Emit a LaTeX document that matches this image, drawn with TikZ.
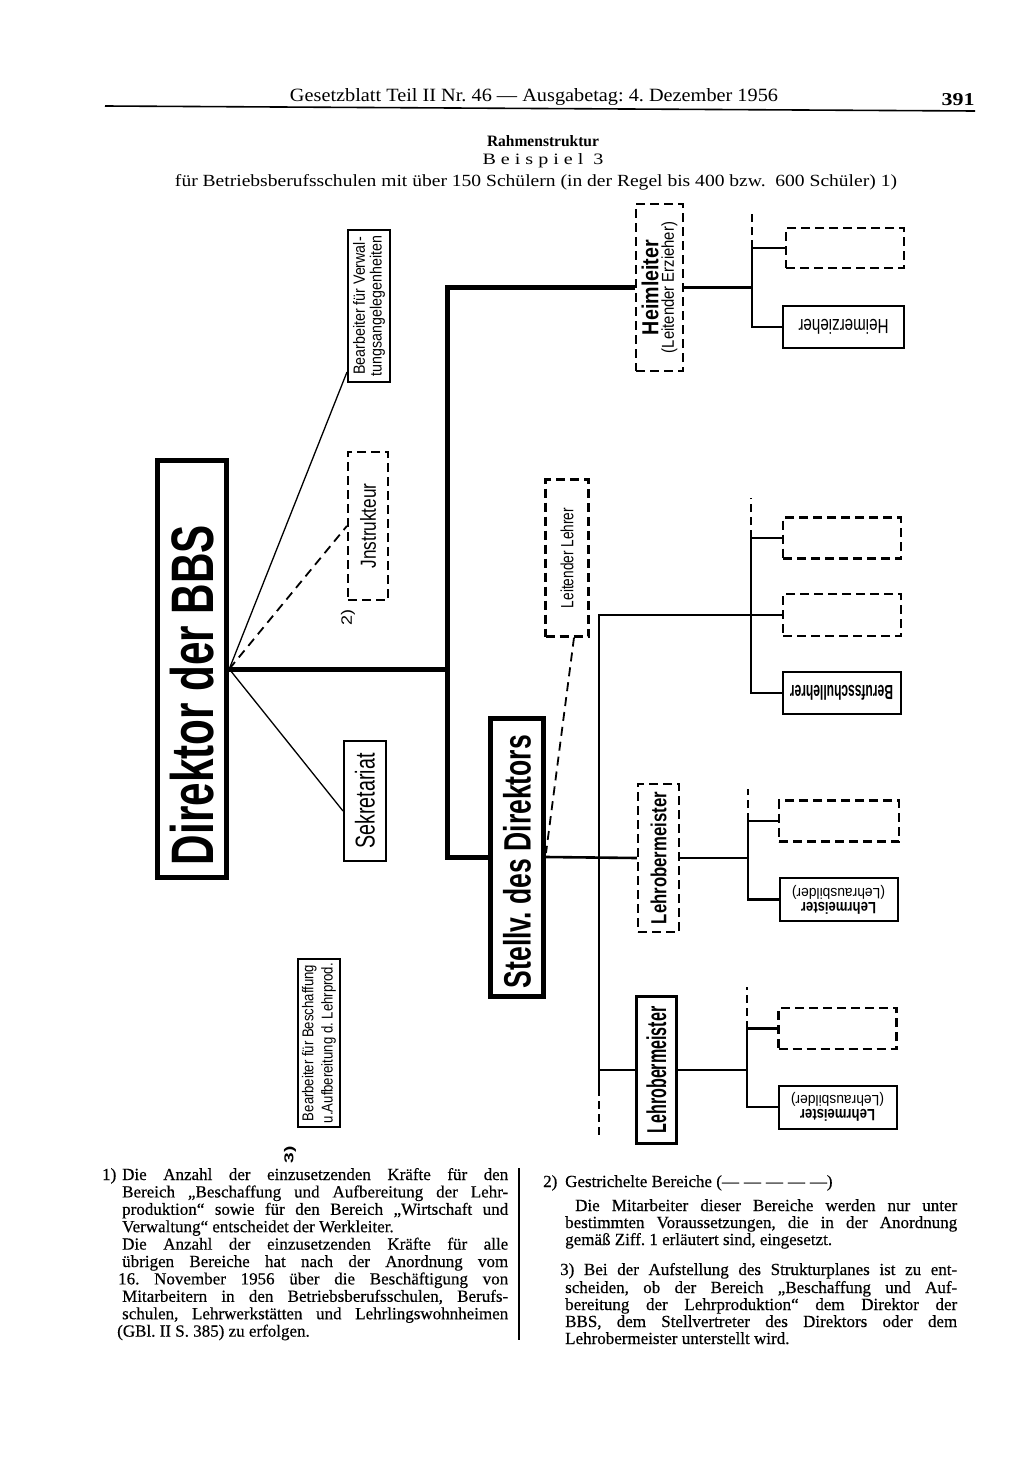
\documentclass[tikz,border=0pt]{standalone}
\usepackage{fontspec}
\usepackage{graphicx}
\setmainfont{Liberation Serif}
\newfontfamily\dsans{Liberation Sans}
\newfontfamily\fnfont[FakeBold=0.4]{Liberation Serif}
\usetikzlibrary{calc}
\newcommand\fitR[3]{\rotatebox{90}{\resizebox*{#1}{#2}{#3}}}
\newcommand\fitU[3]{\rotatebox{180}{\resizebox*{#1}{#2}{#3}}}
\newcommand\jl[2]{\makebox[#1][s]{#2}}
\frenchspacing
\begin{document}
\begin{tikzpicture}[x=1pt,y=-1pt,
 box/.style={draw, rectangle, inner sep=0pt, line width=2pt, font=\dsans},
 dbox/.style={box, line width=2.2pt, dash pattern=on 9pt off 5pt},
 heavybox/.style={box, line width=5pt},
 trunkline/.style={line width=5pt},
 midline/.style={line width=2.6pt},
 thinline/.style={line width=1.3pt},
 dashline/.style={line width=1.8pt, dash pattern=on 9pt off 6pt},
 stub/.style={line width=2.6pt, dash pattern=on 8pt off 5pt},
 fn/.style={anchor=base west, inner sep=0pt, font=\fnfont\fontsize{17}{19}\selectfont},
 lbl/.style={inner sep=0pt, font=\dsans\bfseries},
 ttl/.style={inner sep=0pt}]
\useasboundingbox (0,0) rectangle (1024,1459);
\fill[white] (0,0) rectangle (1024,1459);

% header
\node[ttl] (hdr) at (534,97) {\resizebox{488pt}{13pt}{Gesetzblatt Teil II Nr. 46 — Ausgabetag: 4. Dezember 1956}};
\node[ttl] (pg) at (958,100) {\resizebox{33pt}{12pt}{\bfseries 391}};
\draw[line width=1.6pt] (105,106) -- (975,111);
\node[ttl] (ta) at (543,141) {\resizebox{112pt}{11pt}{\bfseries Rahmenstruktur}};
\node[ttl] (tb) at (543,161) {\resizebox{121pt}{11pt}{\addfontfeature{LetterSpace=25}Beispiel 3}};
\node[ttl] (tc) at (536,182) {\resizebox{722pt}{12pt}{für Betriebsberufsschulen mit über 150 Schülern (in der Regel bis 400 bzw.\ \ 600 Schüler) 1)}};

% left side
\node[heavybox, line width=5.5pt, minimum width=69pt, minimum height=417pt] (dir) at (192,669)
  {\rotatebox{90}{\resizebox*{340pt}{44pt}{\bfseries Direktor der BBS}\hspace{52pt}}};
\node[box, minimum width=42pt, minimum height=152pt] (bv) at (369,306)
  {\rotatebox{90}{\resizebox*{140pt}{32pt}{\shortstack{Bearbeiter für Verwal-\\tungsangelegenheiten}}}};
\node[dbox, minimum width=40pt, minimum height=148pt] (instr) at (368,526) {\fitR{85pt}{16pt}{Jnstrukteur}};
\node[lbl, font=\dsans] (n2) at (348,617) {\fitR{16pt}{14pt}{2)}};
\node[box, minimum width=42pt, minimum height=120pt] (sek) at (365,801) {\fitR{95pt}{20pt}{Sekretariat}};
\node[box, minimum width=42pt, minimum height=168pt] (bb) at (319,1043)
  {\rotatebox{90}{\resizebox*{160pt}{34pt}{\shortstack{Bearbeiter für Beschaffung\\u.Aufbereitung d. Lehrprod.}}}};
\node[lbl] (n3) at (290,1155) {\fitR{17pt}{12pt}{3)}};

% middle
\node[heavybox, minimum width=53pt, minimum height=278pt] (stv) at (517,857)
  {\rotatebox{90}{\resizebox*{253pt}{28pt}{\bfseries Stellv. des Direktors}\hspace{9pt}}};
\node[dbox, minimum width=47pt, minimum height=167pt] (heim) at (659.5,287.5)
  {\rotatebox{90}{\shortstack{\resizebox*{95pt}{17pt}{\bfseries Heimleiter}\\\resizebox*{131pt}{16pt}{(Leitender Erzieher)}}}};
\node[dbox, minimum width=43pt, minimum height=157pt] (ll) at (567,558) {\fitR{100pt}{13pt}{Leitender Lehrer}};
\node[dbox, minimum width=41pt, minimum height=148pt] (lom1) at (658.5,858) {\fitR{132pt}{16pt}{\bfseries Lehrobermeister}};
\node[box, line width=3.5pt, minimum width=40pt, minimum height=147pt] (lom2) at (656.5,1070) {\fitR{127pt}{20pt}{\bfseries Lehrobermeister}};

% right boxes
\node[dbox, minimum width=118pt, minimum height=40pt] (d1) at (845,248) {};
\node[box, minimum width=121pt, minimum height=42pt] (he) at (843.5,327) {\fitU{90pt}{15pt}{Heimerzieher}};
\node[dbox, minimum width=118pt, minimum height=41pt] (d2) at (842,538) {};
\node[dbox, minimum width=118pt, minimum height=42pt] (d3) at (842,615) {};
\node[box, minimum width=118pt, minimum height=42pt] (bsl) at (841.5,693) {\fitU{103pt}{15pt}{\bfseries Berufsschullehrer}};
\node[dbox, minimum width=120pt, minimum height=41pt] (d4) at (839,821) {};
\node[box, minimum width=118pt, minimum height=43pt] (lm1) at (838.5,899.5)
  {\rotatebox{180}{\shortstack{\resizebox*{75pt}{12pt}{\bfseries Lehrmeister}\\\resizebox*{93pt}{14pt}{(Lehrausbilder)}}}};
\node[dbox, minimum width=118pt, minimum height=41pt] (d5) at (837.5,1028.5) {};
\node[box, minimum width=118pt, minimum height=43pt] (lm2) at (837.5,1107)
  {\rotatebox{180}{\shortstack{\resizebox*{75pt}{12pt}{\bfseries Lehrmeister}\\\resizebox*{93pt}{14pt}{(Lehrausbilder)}}}};

% connectors
\coordinate (trunk) at (447,0);
\coordinate (b1) at (752,0);
\coordinate (b2) at (751,0);
\coordinate (b3) at (748,0);
\coordinate (b4) at (747,0);
\coordinate (tv) at (599,0);
\coordinate (tvend) at (599,1088);
\coordinate (tvtip) at (599,1136);

\draw[thinline] (dir.east) -- ([yshift=11pt]bv.south west);
\draw[dashline] (dir.east) -- (instr.west);
\draw[thinline] (dir.east) -- ([yshift=-10pt]sek.west);
\draw[trunkline] (dir.east) -- (dir.east -| trunk);
\draw[trunkline] (heim.west) -- (heim.west -| trunk) -- (stv.west -| trunk) -- (stv.west);

\draw[midline] (heim.east) -- (heim.east -| b1);
\draw[midline] (d1.west) -- (d1.west -| b1) -- (he.west -| b1) -- (he.west);
\draw[stub] (d1.west -| b1) -- ++(0,-38);

\draw[midline] (d2.west) -- (d2.west -| b2) -- (bsl.west -| b2) -- (bsl.west);
\draw[stub] (d2.west -| b2) -- ++(0,-40);
\draw[midline] (d3.west) -- (d3.west -| tv) -- (tvend);
\draw[stub] (tvend) -- (tvtip);
\draw[midline] (lom2.west -| tv) -- (lom2.west);

\draw[midline] (stv.east) -- (lom1.west);
\draw[dashline] ([xshift=7pt]ll.south) -- ([yshift=4pt]stv.east);

\draw[midline] (lom1.east) -- (lom1.east -| b3);
\draw[midline] (d4.west) -- (d4.west -| b3) -- (lm1.west -| b3) -- (lm1.west);
\draw[stub] (d4.west -| b3) -- ++(0,-32);

\draw[midline] (lom2.east) -- (lom2.east -| b4);
\draw[midline] (d5.west) -- (d5.west -| b4) -- (lm2.west -| b4) -- (lm2.west);
\draw[stub] (d5.west -| b4) -- ++(0,-42);

% footnotes left
\node[fn] (f1n) at (102,1180) {1)};
\node[fn] (f1a) at (122,1180) {\jl{386pt}{Die Anzahl der einzusetzenden Kräfte für den}};
\node[fn] (f1b) at (122,1197.4) {\jl{386pt}{Bereich „Beschaffung und Aufbereitung der Lehr-}};
\node[fn] (f1c) at (122,1214.8) {\jl{386pt}{produktion“ sowie für den Bereich „Wirtschaft und}};
\node[fn] (f1d) at (122,1232.2) {Verwaltung“ entscheidet der Werkleiter.};
\node[fn] (f1e) at (122,1249.6) {\jl{386pt}{Die Anzahl der einzusetzenden Kräfte für alle}};
\node[fn] (f1f) at (122,1267) {\jl{386pt}{übrigen Bereiche hat nach der Anordnung vom}};
\node[fn] (f1g) at (118,1284.4) {\jl{390pt}{16. November 1956 über die Beschäftigung von}};
\node[fn] (f1h) at (122,1301.8) {\jl{386pt}{Mitarbeitern in den Betriebsberufsschulen, Berufs-}};
\node[fn] (f1i) at (122,1319.2) {\jl{386pt}{schulen, Lehrwerkstätten und Lehrlingswohnheimen}};
\node[fn] (f1j) at (117,1336.6) {(GBl. II S. 385) zu erfolgen.};
\draw[line width=1.5pt] (519,1168) -- (519,1340);

% footnotes right
\node[fn] (f2n) at (543,1187) {2)};
\node[fn] (f2a) at (565,1187) {Gestrichelte Bereiche (—\hspace{5pt}—\hspace{5pt}—\hspace{5pt}—\hspace{5pt}—)};
\node[fn] (f2b) at (575,1211) {\jl{382pt}{Die Mitarbeiter dieser Bereiche werden nur unter}};
\node[fn] (f2c) at (565,1228) {\jl{392pt}{bestimmten Voraussetzungen, die in der Anordnung}};
\node[fn] (f2d) at (565,1245) {gemäß Ziff. 1 erläutert sind, eingesetzt.};
\node[fn] (f3a) at (560,1275) {\jl{397pt}{3) Bei der Aufstellung des Strukturplanes ist zu ent-}};
\node[fn] (f3b) at (565,1293) {\jl{392pt}{scheiden, ob der Bereich „Beschaffung und Auf-}};
\node[fn] (f3c) at (565,1310) {\jl{392pt}{bereitung der Lehrproduktion“ dem Direktor der}};
\node[fn] (f3d) at (565,1327) {\jl{392pt}{BBS, dem Stellvertreter des Direktors oder dem}};
\node[fn] (f3e) at (565,1344) {Lehrobermeister unterstellt wird.};
\end{tikzpicture}
\end{document}
